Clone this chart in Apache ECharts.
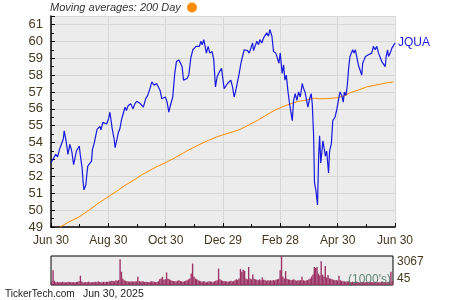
<!DOCTYPE html>
<html><head><meta charset="utf-8">
<script src="https://cdn.jsdelivr.net/npm/echarts@6/dist/echarts.min.js"></script>
<style>html,body{margin:0;padding:0;background:#fff}#c{width:450px;height:300px}</style>
</head><body><div id="c"></div>
<script>
// x tick labels (every ~2 months, day offsets from Jun 30, 2024)
const xTickLabels = ["Jun 30", "Aug 30", "Oct 30", "Dec 29", "Feb 28", "Apr 30", "Jun 30"];
const volumeTickLabels = [45, 3067];

// JQUA closing price: [days since Jun 30 2024, price]
const closePrice = [
[0,52.8],[2,53.0],[5,53.3],[7,53.15],[9,53.6],[11,53.9],[13,54.2],[14,54.7],[16,54.1],[18,53.3],[20,53.9],[22,53.5],[24,52.7],[25,52.8],[27,53.5],[28,53.5],[30,53.8],[31,53.3],[33,52.5],[34,51.7],[35,51.2],[37,51.5],[38,52.1],[39,52.6],[41,52.6],[43,52.9],[44,53.6],[46,54.0],[47,54.3],[49,54.8],[51,54.75],[52,54.95],[53,54.75],[55,55.2],[57,55.3],[59,55.1],[61,55.4],
[62.5,55.8],[64,55.2],[65,54.8],[67,54.2],[68,53.7],[70,54.2],[71.5,54.6],[73,54.8],[75,55.4],[77,55.8],[78.6,56.1],[80,55.9],[82,56.2],[84.6,56.3],[87,56.0],[89,56.3],[91,56.45],[92.7,56.5],[95,56.3],[96.5,56.2],[98,56.1],[100.5,56.6],[102.6,56.8],[105,57.2],[107,57.6],[109.4,57.4],[112,57.5],[115.7,57.1],[117.6,56.6],
[119.7,56.5],[121.4,56.7],[123.2,56.4],[125,55.8],[126.7,56.2],[129.2,56.7],[131.3,58.1],[133.1,58.8],[135.6,58.9],[137.4,58.7],[139.1,58.5],[140.6,57.7],[142,57.6],[144.4,57.8],[146.2,58.0],[148.3,59.0],[150.5,59.5],[152.2,59.6],[154,59.7],[155.8,59.8],[157.5,59.7],[158.9,60.0],[160.4,59.8],[162.1,60.1],[163,60.1],[164.9,59.3],[166.7,59.7],[168.5,59.3],[170.9,59.4],[172.7,58.9],[174.5,57.3],[176.3,57.9],[178.7,58.2],[180.9,58.4],
[182,58.5],[183.7,57.2],[185.5,57.1],[187.3,57.5],[189,57.4],[190.8,57.7],[192.6,57.3],[194.3,56.7],[196.1,57.1],[197.9,57.6],[199.7,58.1],[201.5,58.7],[203.2,59.1],[205,59.5],[206.8,59.4],[208.6,59.45],[210.3,59.3],[212.1,59.4],[213.9,59.9],[214.9,59.45],[216.7,59.5],[218.4,60.0],[220.2,59.8],[221.6,60.1],[223.7,59.9],[225.5,60.2],[227.2,60.1],[229,60.5],[230.8,60.3],[232.2,60.7],[233.3,60.7],[234.4,60.3],[236.1,59.4],[238.6,59.3],[240.4,59.2],[241.8,58.7],[243.2,59.3],[245.3,58.1],[246.8,58.6],[248.2,57.7],[249.7,58.0],[251.3,57.1],[253.1,56.3],[254.5,56.2],[256,55.3],[257.4,56.5],[259.1,56.9],[260.9,56.5],[262.7,57.0],[264.5,56.7],[266.6,57.5],[268,57.2],[269.5,57.0],[271.2,56.9],[272.6,56.1],[274.4,56.6],[276.1,56.9],[277.2,56.3],
[278.6,54.5],[279.6,51.6],[281,51.2],[282.8,50.3],[284,53.2],[285,54.4],[286.2,52.8],[287.5,53.5],[288.5,54.1],[290,54.05],[291.2,53.2],[292.5,53.5],[294.5,52.2],[295.6,53.5],[297.5,53.95],[299,55.3],[301.3,55.5],[303,55.9],[304.8,56.0],[306.6,57.0],[308.4,56.8],[310.1,56.4],[311.2,57.0],[313,56.8],[314.4,57.4],[315.8,58.4],[317.2,59.1],[319,59.2],[320.1,59.5],[321.5,59.3],[322.9,59.5],[324.4,59.1],[326.1,58.6],[327.9,58.5],[329.7,58.0],[330.7,58.7],[332.2,58.9],[333.6,59.1],[335,59.0],[336.8,59.2],[338.6,59.3],[340.3,59.3],[342.1,59.7],[343.9,59.5],[345.7,59.7],[347.5,59.3],[349.3,59.4],[351,58.8],[352.8,58.7],[354.6,58.5],[355.6,59.1],[357.1,59.5],[358.1,59.1],[359.9,59.3],[361.7,59.6],[363.4,59.7],[365,59.9]
];

// 200-day moving average: [days, value]
const movingAvg200 = [
[9.6,49.0],[19,49.3],[29,49.57],[39.6,49.97],[52,50.47],[59,50.73],[69.8,51.12],[78,51.45],[87.4,51.76],[96,52.08],[105,52.36],[114,52.62],[123,52.85],[132,53.12],[140.5,53.39],[149,53.65],[158,53.9],[167,54.13],[176,54.34],[184.8,54.5],[192,54.62],[200.7,54.78],[210,55.05],[220,55.34],[229,55.65],[238,55.93],[247,56.15],[255.6,56.33],[263,56.45],[271.6,56.53],[279.6,56.63],[285,56.6],[291,56.6],[297,56.62],[303.4,56.65],[312,56.78],[317,56.95],[326.4,57.12],[335,57.3],[344,57.4],[354,57.52],[363.6,57.6]
];

// daily volume (1000's)
const volume = [
400,1570,450,300,350,280,320,300,350,300,
300,280,350,300,320,280,300,260,330,350,
400,975,380,300,280,320,300,350,300,280,
320,300,350,300,400,320,300,280,350,300,
350,330,400,380,450,420,380,500,450,520,
2720,1400,650,500,450,400,380,350,400,380,
350,400,380,870,420,350,400,380,330,350,
320,300,350,400,380,350,300,330,400,600,
700,870,550,600,1325,650,600,500,450,420,
400,380,450,500,420,380,350,400,450,500,
600,700,1220,2265,900,700,600,500,450,400,
350,400,380,300,350,400,380,350,300,400,
450,500,1740,600,500,450,400,420,380,350,
400,450,380,420,500,600,550,700,1700,1400,
1600,1500,700,600,1900,700,600,1115,650,600,
550,500,600,500,800,550,500,450,500,480,
500,450,520,480,550,600,650,1570,3067,900,
700,1465,650,600,550,500,550,600,500,450,
500,480,520,870,500,450,480,520,600,700,
900,1100,1900,1800,1900,1200,1000,2500,1100,900,
2020,800,1050,700,650,600,550,500,520,480,
975,500,450,400,380,350,400,380,350,300,
350,300,330,380,300,280,320,300,350,300,
300,280,350,300,320,280,300,350,300,280,
300,320,350,300,280,300,350,320,1400,400
];

const labelColor = '#45381f';
const X_STEP = 365 / 6;
const chart = echarts.init(document.getElementById('c'), null, {renderer: 'canvas'});
chart.setOption({
  animation: false,
  backgroundColor: '#ffffff',
  grid: [
    {left: 51, top: 16, width: 344, height: 211, show: true, backgroundColor: '#ececec', borderWidth: 0},
    {left: 51, top: 256, width: 342, height: 29, show: true, backgroundColor: '#ececec', borderColor: '#000', borderWidth: 1}
  ],
  xAxis: [
    {type: 'value', gridIndex: 0, min: 0, max: 365, interval: X_STEP,
     axisLine: {show: true, onZero: false, lineStyle: {color: '#000', width: 1.5}},
     axisTick: {show: true, inside: true, length: 4, lineStyle: {color: '#000'}},
     minorTick: {show: true, splitNumber: 2, length: 3, lineStyle: {color: '#000'}},
     splitLine: {show: true, lineStyle: {color: '#d6d6d6', width: 1}},
     axisLabel: {fontSize: 12, color: labelColor, margin: 8, fontFamily: 'Liberation Sans, Arial, sans-serif',
       formatter: v => xTickLabels[Math.round(v / X_STEP)] || ''}},
    {type: 'category', gridIndex: 1, data: volume.map((_, i) => i), boundaryGap: true,
     axisLine: {show: false}, axisTick: {show: false}, axisLabel: {show: false}, splitLine: {show: false}}
  ],
  yAxis: [
    {type: 'value', gridIndex: 0, min: 49, max: 61.5, interval: 1,
     axisLine: {show: true, onZero: false, lineStyle: {color: '#000', width: 1.5}},
     axisTick: {show: true, inside: true, length: 4, lineStyle: {color: '#000'}},
     minorTick: {show: true, splitNumber: 2, length: 3, lineStyle: {color: '#000'}},
     splitLine: {show: true, lineStyle: {color: '#d6d6d6', width: 1}},
     axisLabel: {fontSize: 13, color: labelColor, margin: 8, fontFamily: 'Liberation Sans, Arial, sans-serif',
       formatter: v => (Number.isInteger(v) ? String(v) : '')}},
    {type: 'value', gridIndex: 1, min: 0, max: 3067, position: 'right',
     axisLine: {show: false}, axisTick: {show: false}, splitLine: {show: false},
     axisLabel: {show: true, customValues: volumeTickLabels, fontSize: 12, color: labelColor, margin: 4,
       fontFamily: 'Liberation Sans, Arial, sans-serif', formatter: v => String(v),
       verticalAlignMinLabel: 'bottom', verticalAlignMaxLabel: 'top'}}
  ],
  series: [
    {type: 'line', xAxisIndex: 0, yAxisIndex: 0, data: movingAvg200, showSymbol: false, clip: true,
     lineStyle: {color: '#ff8c00', width: 1}, z: 3},
    {type: 'line', xAxisIndex: 0, yAxisIndex: 0, data: closePrice, showSymbol: false, clip: true,
     lineStyle: {color: '#1818e0', width: 1.2}, z: 4,
     endLabel: {show: true, formatter: 'JQUA', color: '#1818e0', fontSize: 12, distance: 3,
       fontFamily: 'Liberation Sans, Arial, sans-serif'}},
    {type: 'bar', xAxisIndex: 1, yAxisIndex: 1, data: volume, barWidth: '100%', barGap: '0%',
     itemStyle: {color: '#9c3163'}, z: 2}
  ],
  graphic: [
    {type: 'text', left: 50, top: 2, style: {text: 'Moving averages: 200 Day', fontSize: 11, fontStyle: 'italic',
      fill: '#333', fontFamily: 'Liberation Sans, Arial, sans-serif'}},
    {type: 'circle', shape: {cx: 192, cy: 7.5, r: 5}, style: {fill: '#ff8c00'}},
    {type: 'text', left: 348, top: 274, z: 100, style: {text: "(1000's)", fontSize: 12, fill: '#4f7a63',
      fontFamily: 'Liberation Sans, Arial, sans-serif', opacity: 0.9}},
    {type: 'text', left: 5, top: 289, style: {text: 'TickerTech.com', fontSize: 10, fill: '#222',
      fontFamily: 'Liberation Sans, Arial, sans-serif'}},
    {type: 'text', left: 83, top: 289, style: {text: 'Jun 30, 2025', fontSize: 10.5, fill: '#222',
      fontFamily: 'Liberation Sans, Arial, sans-serif'}}
  ]
});
</script>
</body></html>
